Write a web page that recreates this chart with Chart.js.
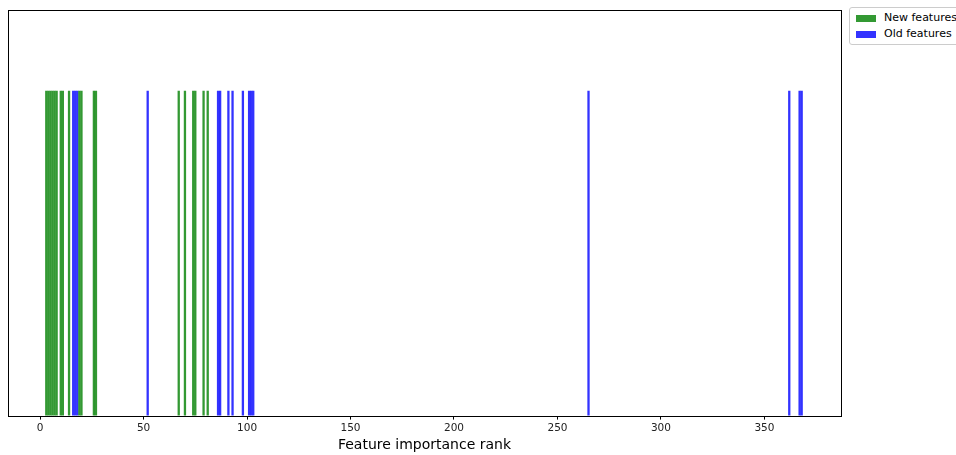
<!DOCTYPE html>
<html>
<head>
<meta charset="utf-8">
<script src="https://cdn.jsdelivr.net/npm/chart.js@4.4.1/dist/chart.umd.min.js"></script>
<style>
  html, body { margin: 0; padding: 0; background: #fff; }
  #wrap { position: relative; width: 956px; height: 455px; }
  #legend {
    position: absolute; left: 849px; top: 7px; width: 120px; height: 36px;
    border: 1px solid #ccc; border-radius: 3px; background: #fff;
    font-family: "DejaVu Sans", sans-serif; font-size: 11px; color: #000;
  }
  #legend div { position: absolute; left: 6px; height: 14px; line-height: 14px; }
  #legend span.patch { display: inline-block; width: 20px; height: 7px; vertical-align: middle; margin-right: 8px; }
</style>
</head>
<body>
<div id="wrap">
  <canvas id="chart" width="956" height="455"></canvas>
  <div id="legend">
    <div style="top:3px"><span class="patch" style="background:rgba(0,128,0,0.8)"></span>New features</div>
    <div style="top:19px"><span class="patch" style="background:rgba(0,0,255,0.8)"></span>Old features</div>
  </div>
</div>
<script>
// feature ranks
const newRanks = [3, 4, 5, 6, 7, 8, 10, 11, 14, 19, 20, 26, 27, 67, 70, 74, 75, 79, 81];
const oldRanks = [16, 17, 18, 52, 86, 87, 91, 93, 98, 101, 102, 103, 265, 362, 367, 368];
const xTicks = [0, 50, 100, 150, 200, 250, 300, 350];

// frame around the plot area
const framePlugin = {
    id: 'frame',
    afterDraw(chart) {
        const a = chart.chartArea;
        const ctx = chart.ctx;
        ctx.save();
        ctx.strokeStyle = '#000';
        ctx.lineWidth = 1;
        ctx.strokeRect(Math.round(a.left) + 0.5, Math.round(a.top) + 0.5,
            Math.round(a.right - a.left), Math.round(a.bottom - a.top));
        ctx.restore();
    }
};

new Chart(document.getElementById('chart').getContext('2d'), {
    type: 'bar',
    data: {
        datasets: [{
            label: 'New features',
            data: newRanks.map(r => ({ x: r, y: 1 })),
            backgroundColor: 'rgba(0, 128, 0, 0.8)',
            barThickness: 1.65,
            grouped: false
        }, {
            label: 'Old features',
            data: oldRanks.map(r => ({ x: r, y: 1 })),
            backgroundColor: 'rgba(0, 0, 255, 0.8)',
            barThickness: 1.65,
            grouped: false
        }]
    },
    options: {
        responsive: false,
        animation: false,
        layout: { padding: { left: 8, top: 10, right: 115, bottom: 1 } },
        plugins: {
            legend: { display: false },
            tooltip: { enabled: false }
        },
        scales: {
            x: {
                type: 'linear',
                min: -15.5,
                max: 387,
                offset: false,
                afterBuildTicks(scale) {
                    scale.ticks = xTicks.map(v => ({ value: v }));
                },
                ticks: {
                    color: '#222',
                    padding: 2,
                    maxRotation: 0,
                    font: { family: 'DejaVu Sans', size: 10.5 }
                },
                grid: {
                    offset: false,
                    drawOnChartArea: false,
                    drawTicks: true,
                    tickLength: 4,
                    color: '#000'
                },
                border: { display: false },
                title: {
                    display: true,
                    text: 'Feature importance rank',
                    color: '#000',
                    padding: { top: 1, bottom: 0 },
                    font: { family: 'DejaVu Sans', size: 14 }
                }
            },
            y: {
                display: false,
                min: 0,
                max: 1.25
            }
        }
    },
    plugins: [framePlugin]
});
</script>
</body>
</html>
